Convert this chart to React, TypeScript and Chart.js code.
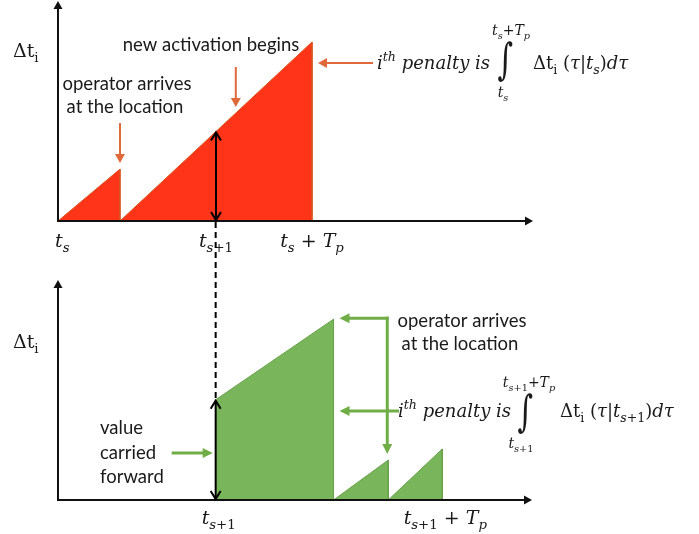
import React, { useEffect, useRef } from "react";
import { Chart, registerables } from "chart.js";

Chart.register(...registerables);

// ---------------- data (time: t_s = 0, t_s + T_p = 10; Δt_i in arbitrary units) ----------------
const topActivation1X = [0, 2.44, 2.44];
const topActivation1Y = [0, 2.9, 0];
const topActivation2X = [2.44, 10, 10];
const topActivation2Y = [0, 10, 0];
const topTickValues = [0, 6.22, 10];
const topTickLabels = ["t_s", "t_{s+1}", "t_s + T_p"];
const topCarriedValue = 5.0;
const topNewActivationX = 7.0;

const bottomCarriedX = [6.22, 6.22, 10.87, 10.87];
const bottomCarriedY = [0, 5.6, 10.1, 0];
const bottomActivation2X = [10.87, 13.03, 13.03];
const bottomActivation2Y = [0, 2.23, 0];
const bottomActivation3X = [13.03, 15.16, 15.16];
const bottomActivation3Y = [0, 2.85, 0];
const bottomTickValues = [6.22, 15.16];
const bottomTickLabels = ["t_{s+1}", "t_{s+1} + T_p"];

const X_MAX = 18.7;
const Y_MAX = 12.29;

// ---------------- styling ----------------
const SANS = 'Lato, "Open Sans", sans-serif';
const SERIF = '"DejaVu Serif", serif';
const TEXT = "#1a1a1a";
const RED_FILL = "#FF3418";
const RED_EDGE = "#D8561F";
const ORANGE = "#E0693B";
const GREEN_FILL = "#79B55B";
const GREEN_EDGE = "#68A24C";
const GREEN = "#70AD47";
const LABEL_SIZE = 18.5;

type Ctx = CanvasRenderingContext2D;
type Run = { ch: string; size: number; shift: number; italic: boolean };

function parseMath(s: string, size: number, shift: number, st: { up: boolean }, out: Run[]) {
  let i = 0;
  while (i < s.length) {
    const c = s[i];
    if (c === "`") { st.up = !st.up; i++; continue; }
    if (c === "_" || c === "^") {
      let inner: string;
      if (s[i + 1] === "{") {
        let depth = 0;
        let j = i + 1;
        for (; j < s.length; j++) {
          if (s[j] === "{") depth++;
          else if (s[j] === "}") { depth--; if (depth === 0) break; }
        }
        inner = s.slice(i + 2, j);
        i = j + 1;
      } else {
        inner = s[i + 1];
        i += 2;
      }
      parseMath(inner, size * 0.7, shift + (c === "_" ? size * 0.28 : -size * 0.42), st, out);
      continue;
    }
    out.push({ ch: c, size, shift, italic: !st.up && /[A-Za-z\u03b1-\u03c9]/.test(c) });
    i++;
  }
}

function runFont(r: Run) {
  return `${r.italic ? "italic " : ""}${r.size}px ${SERIF}`;
}

function drawMath(ctx: Ctx, s: string, x: number, y: number, size: number, align: "left" | "center" = "left") {
  const runs: Run[] = [];
  parseMath(s, size, 0, { up: false }, runs);
  let w = 0;
  const widths = runs.map((r) => { ctx.font = runFont(r); const m = ctx.measureText(r.ch).width; w += m; return m; });
  let cx = align === "center" ? x - w / 2 : x;
  ctx.fillStyle = TEXT;
  ctx.textAlign = "left";
  ctx.textBaseline = "alphabetic";
  runs.forEach((r, k) => { ctx.font = runFont(r); ctx.fillText(r.ch, cx, y + r.shift); cx += widths[k]; });
  return w;
}

function mathWidth(ctx: Ctx, s: string, size: number) {
  const runs: Run[] = [];
  parseMath(s, size, 0, { up: false }, runs);
  return runs.reduce((a, r) => { ctx.font = runFont(r); return a + ctx.measureText(r.ch).width; }, 0);
}

function drawIntegral(ctx: Ctx, cx: number, cy: number, h: number) {
  ctx.save();
  ctx.font = `30px ${SERIF}`;
  ctx.textAlign = "left";
  ctx.textBaseline = "alphabetic";
  const m = ctx.measureText("∫");
  const asc = m.actualBoundingBoxAscent, desc = m.actualBoundingBoxDescent;
  const l = m.actualBoundingBoxLeft, r = m.actualBoundingBoxRight;
  const s = h / (asc + desc);
  ctx.translate(cx, cy);
  ctx.scale(1, s);
  ctx.fillStyle = TEXT;
  ctx.fillText("∫", -(r - l) / 2, (asc - desc) / 2);
  ctx.restore();
}

function drawText(ctx: Ctx, s: string, x: number, y: number, size: number, align: CanvasTextAlign = "center") {
  ctx.font = `${size}px ${SANS}`;
  ctx.fillStyle = TEXT;
  ctx.textAlign = align;
  ctx.textBaseline = "middle";
  ctx.fillText(s, x, y);
}

function line(ctx: Ctx, x1: number, y1: number, x2: number, y2: number, color: string, w: number, dash: number[] = []) {
  ctx.save();
  ctx.strokeStyle = color;
  ctx.lineWidth = w;
  ctx.setLineDash(dash);
  ctx.beginPath();
  ctx.moveTo(x1, y1);
  ctx.lineTo(x2, y2);
  ctx.stroke();
  ctx.restore();
}

function filledHead(ctx: Ctx, tx: number, ty: number, dx: number, dy: number, len: number, half: number, color: string) {
  const n = Math.hypot(dx, dy); const ux = dx / n, uy = dy / n;
  const bx = tx - ux * len, by = ty - uy * len;
  ctx.save();
  ctx.fillStyle = color;
  ctx.beginPath();
  ctx.moveTo(tx, ty);
  ctx.lineTo(bx - uy * half, by + ux * half);
  ctx.lineTo(bx + uy * half, by - ux * half);
  ctx.closePath();
  ctx.fill();
  ctx.restore();
}

function arrow(ctx: Ctx, x1: number, y1: number, x2: number, y2: number, color: string, w: number, len: number, half: number) {
  const n = Math.hypot(x2 - x1, y2 - y1); const ux = (x2 - x1) / n, uy = (y2 - y1) / n;
  line(ctx, x1, y1, x2 - ux * (len - 1), y2 - uy * (len - 1), color, w);
  filledHead(ctx, x2, y2, ux, uy, len, half, color);
}

function openHead(ctx: Ctx, tx: number, ty: number, dy: number, color: string) {
  ctx.save();
  ctx.strokeStyle = color;
  ctx.lineWidth = 2;
  ctx.beginPath();
  ctx.moveTo(tx - 5, ty - dy * 8);
  ctx.lineTo(tx, ty);
  ctx.lineTo(tx + 5, ty - dy * 8);
  ctx.stroke();
  ctx.restore();
}

function doubleArrow(ctx: Ctx, x: number, yTop: number, yBot: number) {
  line(ctx, x, yTop + 1, x, yBot - 1, "#000", 2);
  openHead(ctx, x, yTop + 1, -1, "#000");
  openHead(ctx, x, yBot - 1, 1, "#000");
}

function drawAxes(chart: any) {
  const { ctx, chartArea: a } = chart;
  line(ctx, a.left, a.bottom, a.right - 6, a.bottom, "#111", 2);
  filledHead(ctx, a.right, a.bottom, 1, 0, 8, 4.5, "#111");
  line(ctx, a.left, a.bottom + 1, a.left, a.top + 6, "#111", 2);
  filledHead(ctx, a.left, a.top, 0, -1, 8, 4.5, "#111");
}

function interp(xs: number[], ys: number[], x: number) {
  for (let i = 0; i < xs.length - 1; i++) {
    if (x >= xs[i] && x <= xs[i + 1] && xs[i + 1] > xs[i]) {
      return ys[i] + ((ys[i + 1] - ys[i]) * (x - xs[i])) / (xs[i + 1] - xs[i]);
    }
  }
  return 0;
}

function areaDataset(xs: number[], ys: number[], fill: string, edge: string) {
  return {
    data: xs.map((x, i) => ({ x, y: ys[i] })),
    backgroundColor: fill,
    borderColor: edge,
    borderWidth: 1,
    fill: "origin",
    pointRadius: 0,
    tension: 0,
  };
}

function baseOptions(padding: any) {
  return {
    responsive: false,
    animation: false as const,
    events: [],
    layout: { padding },
    plugins: { legend: { display: false }, tooltip: { enabled: false } },
    scales: {
      x: { type: "linear" as const, display: false, min: 0, max: X_MAX },
      y: { type: "linear" as const, display: false, min: 0, max: Y_MAX },
    },
  };
}

export default function App() {
  const topRef = useRef<HTMLCanvasElement>(null);
  const botRef = useRef<HTMLCanvasElement>(null);

  useEffect(() => {
    const topDecor = {
      id: "topDecor",
      afterDatasetsDraw(chart: any) {
        const { ctx, scales: { x, y }, chartArea: a } = chart;
        drawAxes(chart);
        // black double arrow at t_{s+1}
        doubleArrow(ctx, x.getPixelForValue(topTickValues[1]), y.getPixelForValue(topCarriedValue), a.bottom);
        // orange arrows
        const ax = x.getPixelForValue(topActivation1X[1]);
        const ay = y.getPixelForValue(topActivation1Y[1]) - 6;
        arrow(ctx, ax, ay - 40, ax, ay, ORANGE, 2, 9, 5);
        const nx = x.getPixelForValue(topNewActivationX);
        const ny = y.getPixelForValue(interp(topActivation2X, topActivation2Y, topNewActivationX)) - 6;
        arrow(ctx, nx, ny - 40, nx, ny, ORANGE, 2, 9, 5);
        const px = x.getPixelForValue(topActivation2X[1]) + 6;
        arrow(ctx, px + 55, 63, px, 63, ORANGE, 2, 9, 5);
        // texts
        drawMath(ctx, "`Δt`_{`i`}", 13, 57, 19);
        drawText(ctx, "new activation begins", 211, 45, LABEL_SIZE);
        drawText(ctx, "operator arrives", 127, 84, LABEL_SIZE);
        drawText(ctx, "at the location", 125, 107, LABEL_SIZE);
        drawMath(ctx, "i^{th} penalty is", 377, 69, 18);
        drawIntegral(ctx, 505, 62, 42);
        drawMath(ctx, "t_s+T_p", 511, 35, 14, "center");
        drawMath(ctx, "t_s", 503, 97, 14, "center");
        drawMath(ctx, "`Δt`_{`i`} (τ|t_s)dτ", 533, 69, 18);
        // tick labels
        topTickValues.forEach((v, i) => {
          const tx = x.getPixelForValue(v);
          const w = mathWidth(ctx, topTickLabels[i], 19);
          const cx = Math.max(tx, a.left - 3 + w / 2);
          drawMath(ctx, topTickLabels[i], cx, 247, 19, "center");
        });
      },
    };

    const topChart = new Chart(topRef.current!, {
      type: "line",
      data: {
        datasets: [
          areaDataset(topActivation1X, topActivation1Y, RED_FILL, RED_EDGE),
          areaDataset(topActivation2X, topActivation2Y, RED_FILL, RED_EDGE),
        ],
      },
      options: baseOptions({ left: 58, right: 699 - 533, top: 1, bottom: 534 - 221 }) as any,
      plugins: [topDecor],
    });

    const botDecor = {
      id: "botDecor",
      afterDatasetsDraw(chart: any) {
        const { ctx, scales: { x, y }, chartArea: a } = chart;
        drawAxes(chart);
        const cx = x.getPixelForValue(bottomCarriedX[1]);
        const cy = y.getPixelForValue(bottomCarriedY[1]);
        // dashed link from the upper panel
        line(ctx, cx, topChart.chartArea.bottom + 1, cx, cy, "#000", 2, [6, 4]);
        doubleArrow(ctx, cx, cy, a.bottom);
        // green arrows
        arrow(ctx, cx - 44, 453, cx - 3, 453, GREEN, 3, 10, 5);
        const peakX = x.getPixelForValue(bottomCarriedX[2]) + 6;
        const peakY = y.getPixelForValue(bottomCarriedY[2]) - 1;
        const vx = x.getPixelForValue(bottomActivation2X[1]) - 1;
        const vy = y.getPixelForValue(bottomActivation2Y[1]) - 6;
        line(ctx, vx, peakY - 1.5, vx, vy - 9, GREEN, 3);
        filledHead(ctx, vx, vy, 0, 1, 10, 5, GREEN);
        arrow(ctx, vx + 1.5, peakY, peakX, peakY, GREEN, 3, 10, 5);
        arrow(ctx, 399, 411, peakX, 411, GREEN, 3, 10, 5);
        // texts
        drawMath(ctx, "`Δt`_{`i`}", 13, 348, 19);
        drawText(ctx, "value", 100, 428, LABEL_SIZE, "left");
        drawText(ctx, "carried", 100, 453, LABEL_SIZE, "left");
        drawText(ctx, "forward", 100, 477, LABEL_SIZE, "left");
        drawText(ctx, "operator arrives", 462, 321, LABEL_SIZE);
        drawText(ctx, "at the location", 460, 344, LABEL_SIZE);
        drawMath(ctx, "i^{th} penalty is", 398, 417, 18);
        drawIntegral(ctx, 525, 414, 42);
        drawMath(ctx, "t_{s+1}+T_p", 529, 387, 14, "center");
        drawMath(ctx, "t_{s+1}", 521, 448, 14, "center");
        drawMath(ctx, "`Δt`_{`i`} (τ|t_{s+1})dτ", 560, 417, 18);
        bottomTickValues.forEach((v, i) => {
          drawMath(ctx, bottomTickLabels[i], x.getPixelForValue(v) + 3, 524, 19, "center");
        });
      },
    };

    const botChart = new Chart(botRef.current!, {
      type: "line",
      data: {
        datasets: [
          areaDataset(bottomCarriedX, bottomCarriedY, GREEN_FILL, GREEN_EDGE),
          areaDataset(bottomActivation2X, bottomActivation2Y, GREEN_FILL, GREEN_EDGE),
          areaDataset(bottomActivation3X, bottomActivation3Y, GREEN_FILL, GREEN_EDGE),
        ],
      },
      options: baseOptions({ left: 58, right: 699 - 532, top: 280, bottom: 534 - 500 }) as any,
      plugins: [botDecor],
    });

    return () => {
      botChart.destroy();
      topChart.destroy();
    };
  }, []);

  const cs: React.CSSProperties = { position: "absolute", left: 0, top: 0, width: 699, height: 534 };
  return (
    <div style={{ position: "fixed", left: 0, top: 0, width: 699, height: 534, background: "#fff", overflow: "hidden" }}>
      <canvas ref={topRef} width={699} height={534} style={cs} />
      <canvas ref={botRef} width={699} height={534} style={cs} />
    </div>
  );
}
